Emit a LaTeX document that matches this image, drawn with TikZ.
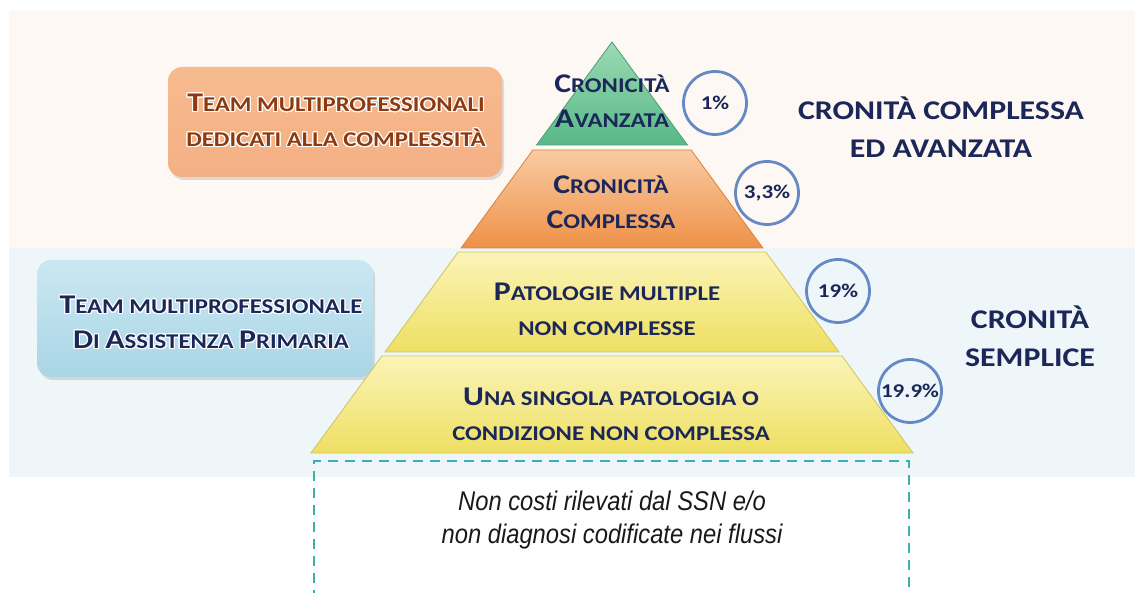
\documentclass[tikz,border=0pt]{standalone}
\usepackage{fontspec}
\setmainfont{Carlito}
\newfontfamily\scf[FakeStretch=1.18]{Carlito}
\newfontfamily\itf[FakeStretch=0.88]{Liberation Sans}
\usepackage{contour}
\contourlength{1.1pt}
\usetikzlibrary{shadows}
\definecolor{peachbg}{HTML}{FDF8F3}
\definecolor{bluebg}{HTML}{EEF6F9}
\definecolor{navy}{HTML}{1C2759}
\definecolor{circ}{HTML}{6489C4}
\definecolor{brownt}{HTML}{8E3A10}
\definecolor{dashteal}{HTML}{37B2B0}
\newcommand\Bg[1]{{\fontsize{27}{35}\selectfont #1}}
\begin{document}
\begin{tikzpicture}[x=1pt,y=-1pt,
  layer/.style={line width=0.8pt},
  glayer/.style={layer, draw={rgb,255:red,70;green,160;blue,115}, top color={rgb,255:red,155;green,218;blue,180}, bottom color={rgb,255:red,88;green,184;blue,134}},
  olayer/.style={layer, draw={rgb,255:red,217;green,128;blue,60}, top color={rgb,255:red,249;green,203;blue,162}, bottom color={rgb,255:red,239;green,145;blue,72}},
  ylayer/.style={layer, draw={rgb,255:red,205;green,195;blue,95}, top color={rgb,255:red,251;green,244;blue,184}, bottom color={rgb,255:red,238;green,223;blue,98}},
  sctext/.style={font=\scf\bfseries\fontsize{21}{35}\selectfont, text=navy, align=center},
  bigcaps/.style={font=\scf\bfseries\fontsize{27}{38}\selectfont, text=navy, align=center},
  pct/.style={circle, draw=circ, line width=2.8pt, minimum size=63pt, inner sep=0pt,
    font=\scf\bfseries\fontsize{19.5}{20}\selectfont, text=navy},
  obox/.style={rounded corners=14pt, top color={rgb,255:red,246;green,186;blue,142}, middle color={rgb,255:red,251;green,222;blue,202}, bottom color={rgb,255:red,244;green,176;blue,132},
    drop shadow={opacity=0.25, shadow xshift=2pt, shadow yshift=-3pt}},
  bbox/.style={rounded corners=14pt, top color={rgb,255:red,203;green,232;blue,242}, middle color={rgb,255:red,216;green,239;blue,246}, bottom color={rgb,255:red,169;green,213;blue,229},
    drop shadow={opacity=0.25, shadow xshift=2pt, shadow yshift=-3pt}},
  dashbox/.style={draw=dashteal, line width=2.6pt, dash pattern=on 10pt off 7pt}
]
\useasboundingbox (0,0) rectangle (1135,593);
\fill[white] (0,0) rectangle (1135,593);
% background bands
\fill[peachbg] (9,11) rectangle (1135,248);
\fill[bluebg] (9,248) rectangle (1135,477);

% left boxes
\path[obox] (168,67) rectangle (502,177);
\path[bbox] (37,260) rectangle (373,377);
\node[sctext, text=brownt] (oboxtxt) at (336,121)
  {\contour{white}{\Bg{T}EAM MULTIPROFESSIONALI}\\\contour{white}{DEDICATI ALLA COMPLESSITÀ}};
\node[sctext] (bboxtxt) at (211,323)
  {\contour{white}{\Bg{T}EAM MULTIPROFESSIONALE}\\\contour{white}{\Bg{D}I \Bg{A}SSISTENZA \Bg{P}RIMARIA}};

% pyramid layers
\path[glayer] (612,42) -- (687.4,145) -- (536.6,145) -- cycle;
\path[olayer] (532.9,150) -- (691.1,150) -- (762.9,248) -- (461.1,248) -- cycle;
\path[ylayer] (458.2,252) -- (765.8,252) -- (839,352) -- (385,352) -- cycle;
\path[ylayer] (382,356) -- (842,356) -- (913,453) -- (311,453) -- cycle;

\node[sctext] (l1) at (612,101) {\Bg{C}RONICITÀ\\\Bg{A}VANZATA};
\node[sctext] (l2) at (611,202) {\Bg{C}RONICITÀ\\\Bg{C}OMPLESSA};
\node[sctext] (l3) at (607,309) {\Bg{P}ATOLOGIE MULTIPLE\\NON COMPLESSE};
\node[sctext] (l4) at (611,414) {\Bg{U}NA SINGOLA PATOLOGIA O\\CONDIZIONE NON COMPLESSA};

% percentage circles
\node[pct] (p1) at (715,103) {1\%};
\node[pct] (p2) at (767,193) {3,3\%};
\node[pct] (p3) at (838,291) {19\%};
\node[pct] (p4) at (910,391) {19.9\%};

% right labels
\node[bigcaps] (r1) at (941,127) {CRONITÀ COMPLESSA\\ED AVANZATA};
\node[bigcaps] (r2) at (1030,336) {CRONITÀ\\SEMPLICE};

% dashed box
\coordinate (dbl) at (314,600);
\coordinate (dtl) at (314,461);
\coordinate (dtr) at (909,461);
\coordinate (dbr) at (909,600);
\draw[dashbox] (dbl) -- (dtl) -- (dtr) -- (dbr);
\node[font=\itf\itshape\fontsize{27}{33}\selectfont, text=black!90, align=center] (note) at (612,520)
  {Non costi rilevati dal SSN e/o\\non diagnosi codificate nei flussi};
\end{tikzpicture}
\end{document}
